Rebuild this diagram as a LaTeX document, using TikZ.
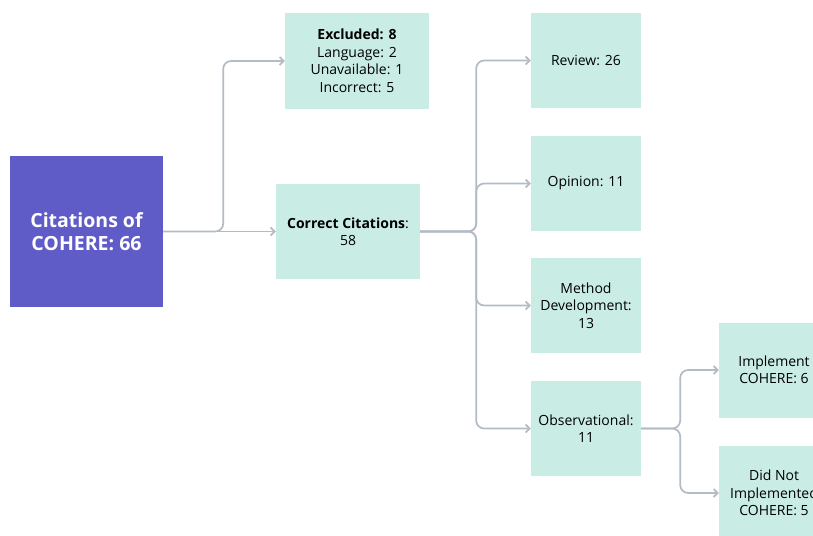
\documentclass[tikz,border=0pt]{standalone}
\usepackage{fontspec}
\setmainfont{Open Sans}
\usepackage{tikz}
\usetikzlibrary{positioning,arrows.meta,calc}
\usepackage{xcolor}
\definecolor{rootfill}{HTML}{5F5BC7}
\definecolor{boxfill}{HTML}{C9EDE5}
\definecolor{linkgray}{HTML}{B3BBC4}

\begin{document}
\begin{tikzpicture}[x=1pt,y=-1pt,
  >={Straight Barb[length=4pt,width=8pt]},
  rootbox/.style={fill=rootfill,text=white,font=\fontsize{19.5}{23}\selectfont\bfseries,
    minimum width=153pt,minimum height=151pt,align=center,inner sep=0pt},
  catbox/.style={fill=boxfill,text=black,font=\fontsize{14}{17.5}\selectfont,
    minimum width=110pt,minimum height=95pt,align=center,inner sep=0pt},
  widebox/.style={catbox,minimum width=144pt},
  conn/.style={->,draw=linkgray,line width=1.7pt,rounded corners=8pt}]
\clip (0,0) rectangle (813,535);
\useasboundingbox (0,0) rectangle (813,535);
\node[rootbox] (root) at (86.5,231.5) {Citations of\\COHERE: 66};
\node[widebox] (excl) at (357,61) {\textbf{Excluded: 8}\\Language: 2\\Unavailable: 1\\Incorrect: 5};
\node[widebox] (corr) at (348,231.5) {\textbf{Correct Citations}:\\58};
\node[catbox] (rev) at (586,60.5) {Review: 26};
\node[catbox] (opin) at (586,183.5) {Opinion: 11};
\node[catbox] (meth) at (586,305.5) {Method\\Development:\\13};
\node[catbox] (obs) at (586,428.5) {Observational:\\11};
\node[catbox] (impl) at (774,370) {Implement\\COHERE: 6};
\node[catbox] (notimpl) at (774,493) {Did Not\\Implemented\\COHERE: 5};
% links
\draw[conn] (root.east) -- (corr.west);
\draw[conn] (root.east) -- ++(60,0) |- (excl.west);
\foreach \t in {rev,opin,meth,obs}
  \draw[conn] (corr.east) -- ++(56,0) |- (\t.west);
\foreach \t in {impl,notimpl}
  \draw[conn] (obs.east) -- ++(39,0) |- (\t.west);
\end{tikzpicture}
\end{document}
